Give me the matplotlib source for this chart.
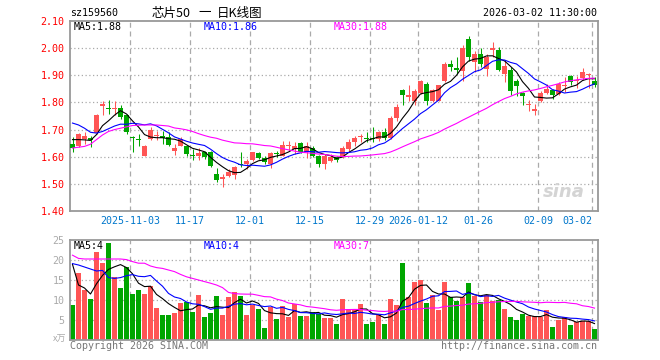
import numpy as np
import pandas as pd
import matplotlib
matplotlib.use('Agg')
import matplotlib.pyplot as plt

# daily candles, 2025-10-20 .. 2026-03-02 (88 trading days)
opens = [1.647, 1.639, 1.666, 1.668, 1.688, 1.787, 1.777, 1.774, 1.780, 1.752,
         1.673, 1.666, 1.604, 1.666, 1.675, 1.678, 1.672, 1.621, 1.639, 1.638,
         1.606, 1.604, 1.619, 1.616, 1.536, 1.517, 1.530, 1.534, 1.573, 1.573,
         1.589, 1.614, 1.594, 1.573, 1.613, 1.604, 1.640, 1.629, 1.651, 1.619,
         1.632, 1.604, 1.573, 1.585, 1.598, 1.598, 1.629, 1.653, 1.672, 1.667,
         1.668, 1.666, 1.690, 1.668, 1.742, 1.844, 1.821, 1.807, 1.836, 1.869,
         1.807, 1.807, 1.879, 1.943, 1.927, 1.917, 2.032, 1.950, 1.977, 1.922,
         1.995, 1.995, 1.904, 1.919, 1.879, 1.836, 1.789, 1.769, 1.807, 1.836,
         1.844, 1.832, 1.860, 1.898, 1.878, 1.890, 1.901, 1.878]
highs = [1.672, 1.688, 1.690, 1.678, 1.756, 1.807, 1.810, 1.806, 1.789, 1.756,
         1.678, 1.684, 1.643, 1.709, 1.695, 1.696, 1.690, 1.647, 1.671, 1.641,
         1.629, 1.633, 1.622, 1.622, 1.557, 1.536, 1.554, 1.567, 1.619, 1.593,
         1.619, 1.616, 1.604, 1.616, 1.622, 1.659, 1.659, 1.654, 1.653, 1.653,
         1.640, 1.606, 1.610, 1.610, 1.604, 1.641, 1.666, 1.678, 1.684, 1.690,
         1.709, 1.696, 1.705, 1.751, 1.795, 1.851, 1.866, 1.851, 1.881, 1.876,
         1.851, 1.866, 1.950, 1.956, 1.968, 2.010, 2.046, 1.988, 1.999, 1.980,
         2.021, 2.005, 1.956, 1.931, 1.886, 1.839, 1.810, 1.793, 1.843, 1.867,
         1.851, 1.876, 1.894, 1.900, 1.898, 1.927, 1.910, 1.894]
lows = [1.619, 1.634, 1.647, 1.635, 1.684, 1.752, 1.758, 1.754, 1.740, 1.684,
        1.619, 1.641, 1.601, 1.662, 1.662, 1.647, 1.639, 1.608, 1.638, 1.604,
        1.589, 1.589, 1.591, 1.561, 1.507, 1.490, 1.525, 1.519, 1.561, 1.554,
        1.586, 1.591, 1.573, 1.557, 1.598, 1.604, 1.622, 1.610, 1.614, 1.594,
        1.598, 1.561, 1.554, 1.579, 1.581, 1.594, 1.622, 1.641, 1.653, 1.653,
        1.653, 1.659, 1.663, 1.666, 1.733, 1.791, 1.807, 1.791, 1.832, 1.791,
        1.801, 1.806, 1.876, 1.915, 1.906, 1.880, 1.953, 1.913, 1.929, 1.898,
        1.968, 1.916, 1.876, 1.826, 1.825, 1.791, 1.767, 1.754, 1.803, 1.832,
        1.811, 1.826, 1.839, 1.863, 1.853, 1.881, 1.854, 1.856]
closes = [1.631, 1.684, 1.678, 1.662, 1.752, 1.796, 1.774, 1.781, 1.746, 1.690,
          1.669, 1.662, 1.641, 1.700, 1.678, 1.669, 1.644, 1.631, 1.666, 1.610,
          1.604, 1.614, 1.598, 1.564, 1.515, 1.524, 1.542, 1.561, 1.569, 1.585,
          1.616, 1.594, 1.579, 1.614, 1.610, 1.643, 1.641, 1.641, 1.619, 1.641,
          1.604, 1.573, 1.604, 1.598, 1.588, 1.631, 1.656, 1.668, 1.676, 1.664,
          1.666, 1.690, 1.668, 1.742, 1.783, 1.826, 1.829, 1.841, 1.878, 1.807,
          1.844, 1.863, 1.943, 1.931, 1.919, 1.999, 1.969, 1.980, 1.943, 1.966,
          2.001, 1.919, 1.936, 1.843, 1.861, 1.824, 1.795, 1.777, 1.835, 1.849,
          1.829, 1.869, 1.864, 1.876, 1.881, 1.913, 1.903, 1.864]
# volume, unit: 万
volumes = [8.75, 16.75, 12.5, 10.25, 22, 19.25, 24.25, 15.75, 13, 18.25,
           11.5, 12.5, 11.5, 13.5, 8, 6.25, 6.25, 6.75, 9.25, 9.5,
           7, 11.25, 5.75, 6.75, 11, 6.25, 10.75, 12, 11, 6.25,
           8.75, 7.75, 3, 8.25, 5.25, 8.5, 5.75, 9, 6, 6,
           7, 6.5, 5.5, 5.5, 4, 10.25, 7.75, 7.75, 9, 4,
           4.5, 6.25, 4, 10.25, 8.75, 19.25, 10.75, 14.5, 15, 9.25,
           11.25, 7.5, 14.5, 10.75, 9.75, 10.75, 14.25, 11, 9.5, 11.25,
           9.75, 10, 7.75, 5.75, 5, 6.5, 6, 6, 5.75, 7.5,
           3.25, 5, 5.75, 3.75, 4.5, 4.75, 4.75, 2.75]

# moving average values at the left edge (they depend on days before the window)
ma5_head = [1.663, 1.663, 1.662, 1.660]
ma10_head = [1.724, 1.717, 1.705, 1.690, 1.687, 1.693, 1.703, 1.713, 1.720]
ma30_head = [1.632, 1.635, 1.638, 1.646, 1.663, 1.680, 1.693, 1.700, 1.705, 1.710,
             1.715, 1.716, 1.717, 1.717, 1.717, 1.715, 1.713, 1.706, 1.703, 1.699,
             1.693, 1.685, 1.678, 1.672, 1.668, 1.661, 1.656, 1.651, 1.650]
vma5_head = [18.9, 13.75, 13.0, 11.5]
vma10_head = [19.1, 18.75, 18.25, 17.75, 17.25, 17.4, 15.6, 15.4, 15.6]
vma30_head = [21.2, 20.4, 20.25, 20.25, 20.25, 20.25, 20.25, 20.25, 20.25, 20.1,
              19.6, 19.2, 19.2, 18.5, 18.1, 17.9, 17.5, 17.1, 16.4, 15.8,
              15.4, 15.0, 14.6, 14.2, 13.75, 13.1, 11.9, 11.6, 11.5]

date_idx = [10, 20, 30, 40, 50, 58, 68, 78, 87]
date_labels = ['2025-11-03', '11-17', '12-01', '12-15', '12-29',
               '2026-01-12', '01-26', '02-09', '03-02']
price_legend = ['MA5:1.88', 'MA10:1.86', 'MA30:1.88']
vol_legend = ['MA5:4', 'MA10:4', 'MA30:7']

RED = '#ff5555'
GREEN = '#00a600'
MA_COLORS = ['black', '#0000ff', '#ff00ff']
MONO = 'DejaVu Sans Mono'
CJK = ['Noto Sans CJK SC', 'DejaVu Sans']
GRID = '#aaaaaa'


def moving(values, n, head):
    s = pd.Series(values).rolling(n).mean().to_numpy()
    s[:n - 1] = head
    return s


def fx(px):
    return px / 660.0


def fy(py):
    return 1 - py / 360.0


o = np.array(opens); h = np.array(highs); l = np.array(lows); c = np.array(closes)
v = np.array(volumes)
x = np.arange(len(c))
cols = np.where(c >= o, RED, GREEN)
wid = 5.0 / 6.0

fig = plt.figure(figsize=(6.6, 3.6), dpi=100)
ax = fig.add_axes([fx(70), fy(211), 528 / 660, 190 / 360])
axv = fig.add_axes([fx(70), fy(340), 528 / 660, 100 / 360])

for a in (ax, axv):
    a.set_xlim(-2.5 / 6, len(c) - 2.5 / 6)
    a.set_xticks([])
    for sp in a.spines.values():
        sp.set_color('#999999')
        sp.set_linewidth(1.3)
    for i in date_idx:
        a.axvline(i - 2.5 / 6, color=GRID, lw=0.9, ls=(0, (4, 3)), zorder=0)

# --- price panel
ax.set_ylim(1.40, 2.10)
levels = [1.4, 1.5, 1.6, 1.7, 1.8, 1.9, 2.0, 2.1]
ax.set_yticks(levels)
ax.set_yticklabels(['%.2f' % t for t in levels], family=MONO, fontsize=7.2, color='red')
ax.tick_params(axis='y', length=0, pad=4)
for t in levels[1:-1]:
    ax.axhline(t, color=GRID, lw=0.9, ls=(0, (1, 2)), zorder=0)

ax.vlines(x, l, h, colors=cols, lw=0.75, zorder=2)
body = np.maximum(np.abs(c - o), 0.004)
ax.bar(x, body, bottom=np.minimum(o, c), width=wid, color=cols, linewidth=0, zorder=3)

for n, head, col in zip((5, 10, 30), (ma5_head, ma10_head, ma30_head), MA_COLORS):
    ax.plot(x, moving(c, n, head), color=col, lw=0.8, zorder=4)

for i, lab in zip(date_idx, date_labels):
    ha = 'right' if i == date_idx[-1] else 'center'
    ax.text(i - 2.5 / 6, -9.5 / 190, lab, transform=ax.get_xaxis_transform(),
            ha=ha, va='center', family=MONO, fontsize=7.2, color='#0077cc')

ax.text(0.975, 0.1, 'sina', transform=ax.transAxes, ha='right', va='center',
        fontsize=13, fontweight='bold', style='italic', color='#d4d4d4', zorder=1)

# --- volume panel
axv.set_ylim(0, 25)
vlev = [5, 10, 15, 20, 25]
axv.set_yticks(vlev)
axv.set_yticklabels([str(t) for t in vlev], family=MONO, fontsize=7.2, color='#aaaaaa')
axv.tick_params(axis='y', length=0, pad=4)
for t in vlev[:-1]:
    axv.axhline(t, color=GRID, lw=0.9, ls=(0, (1, 2)), zorder=0)
axv.bar(x, v, width=wid, color=cols, linewidth=0, zorder=2)
for n, head, col in zip((5, 10, 30), (vma5_head, vma10_head, vma30_head), MA_COLORS):
    axv.plot(x, moving(v, n, head), color=col, lw=0.8, zorder=4)

# --- texts
fig.text(fx(70), fy(13), 'sz159560', ha='left', va='center', family=MONO, fontsize=7.2)
fig.text(fx(191), fy(13), '芯片50', ha='right', va='center', family=CJK, fontsize=9)
fig.text(fx(204.5), fy(13), '一', ha='center', va='center', family=CJK, fontsize=9)
fig.text(fx(217), fy(13), '日K线图', ha='left', va='center', family=CJK, fontsize=9)
fig.text(fx(597), fy(13), '2026-03-02 11:30:00', ha='right', va='center',
         family=MONO, fontsize=7.2)
for px, lab, col in zip((74, 204, 334), price_legend, MA_COLORS):
    fig.text(fx(px), fy(26.5), lab, ha='left', va='center', family=MONO,
             fontsize=7.2, color=col)
for px, lab, col in zip((74, 204, 334), vol_legend, MA_COLORS):
    fig.text(fx(px), fy(246), lab, ha='left', va='center', family=MONO,
             fontsize=7.2, color=col)
fig.text(fx(66), fy(339), 'x万', ha='right', va='center', family=CJK,
         fontsize=6.5, color='#aaaaaa')
fig.text(fx(70), fy(346), 'Copyright 2026 SINA.COM', ha='left', va='center',
         family=MONO, fontsize=7.2, color='#777777')
fig.text(fx(597), fy(346), 'http://finance.sina.com.cn', ha='right', va='center',
         family=MONO, fontsize=7.2, color='#777777')

fig.savefig('out.png', dpi=100)
